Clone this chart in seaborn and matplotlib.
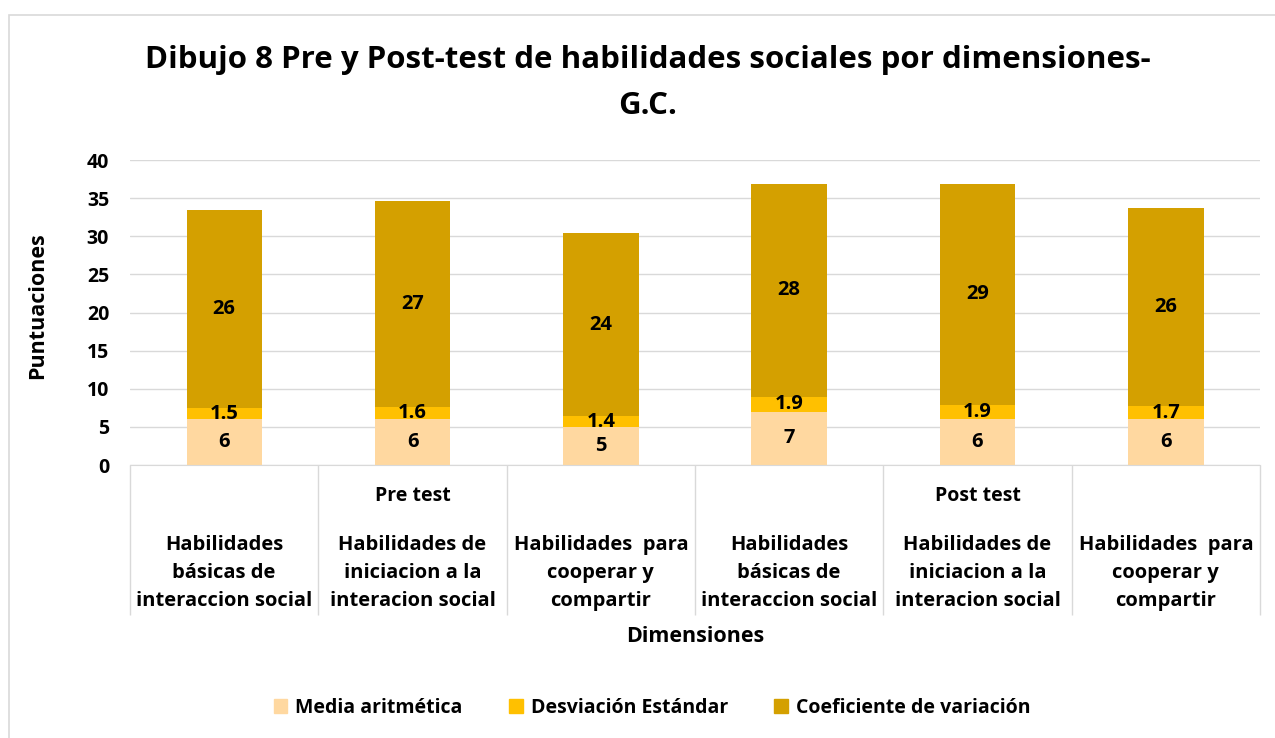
# -*- coding: utf-8 -*-
import numpy as np
import pandas as pd
import matplotlib.pyplot as plt
import matplotlib.patches as mpatches
import seaborn as sns

sns.set_style("white")
plt.rcParams['font.family'] = ['Open Sans', 'DejaVu Sans']
plt.rcParams['font.weight'] = 'bold'
plt.rcParams['text.color'] = 'black'
plt.rcParams['ytick.color'] = 'black'

# datos
grupos = ["Pre test", "Post test"]
dimensiones = ["Habilidades\nbásicas de\ninteraccion social",
               "Habilidades de\niniciacion a la\ninteracion social",
               "Habilidades  para\ncooperar y\ncompartir"]
media = [6, 6, 5, 7, 6, 6]
desviacion = [1.5, 1.6, 1.4, 1.9, 1.9, 1.7]
coef_var = [26, 27, 24, 28, 29, 26]
series = ["Media aritmética", "Desviación Estándar", "Coeficiente de variación"]
colores = ["#FFD8A0", "#FFC000", "#D4A000"]

etiquetas = [g + " | " + d for g in grupos for d in dimensiones]
df = pd.DataFrame({"cat": etiquetas, "media": media,
                   "sd": desviacion, "cv": coef_var})
df["tope_sd"] = df["media"] + df["sd"]
df["total"] = df["tope_sd"] + df["cv"]

fig = plt.figure(figsize=(12.75, 7.38), dpi=100)
ax = fig.add_axes([130/1275, 1 - 465/738, 1130/1275, 305/738])

# barras apiladas (de la mas alta a la mas baja)
for col, c in zip(["total", "tope_sd", "media"], colores[::-1]):
    sns.barplot(data=df, x="cat", y=col, color=c, width=0.40,
                saturation=1, ax=ax, order=etiquetas, linewidth=0)

# etiquetas de valores
for i, r in df.iterrows():
    for yv, v in [(r["media"] / 2, r["media"]),
                  (r["media"] + r["sd"] / 2, r["sd"]),
                  (r["tope_sd"] + r["cv"] / 2, r["cv"])]:
        ax.text(i, yv, f"{v:g}", ha="center", va="center",
                fontsize=14.5, fontweight="bold")

ax.set_ylim(0, 40)
ax.set_xlim(-0.5, 5.5)
ax.set_yticks(np.arange(0, 41, 5))
ax.yaxis.grid(True, color="#D9D9D9", linewidth=1)
ax.set_axisbelow(True)
for s in ["top", "right", "left"]:
    ax.spines[s].set_visible(False)
ax.spines["bottom"].set_color("#D9D9D9")
ax.tick_params(axis="y", length=0, labelsize=14, pad=15)

# eje x multinivel
ax.set_xticks(np.arange(-0.5, 6, 1), minor=True)
ax.set_xticks(range(6))
ax.set_xticklabels([])
ax.set_xlabel("")
ax.set_ylabel("")
ax.tick_params(axis="x", which="major", length=0)
ax.tick_params(axis="x", which="minor", bottom=True, length=108,
               color="#D9D9D9", width=1)
for k, g in enumerate(grupos):
    ax.text(1 + 3 * k, (465 - 496) / 7.625, g, ha="center", va="center",
            fontsize=14, fontweight="bold")
for i, d in enumerate([d for g in grupos for d in dimensiones]):
    ax.text(i, (465 - 573) / 7.625, d, ha="center", va="center",
            fontsize=14.5, fontweight="bold", linespacing=1.52)

fig.text(695/1275, 1 - 637/738, "Dimensiones", ha="center", va="center",
         fontsize=15.5, fontweight="bold")
fig.text(38/1275, 1 - 306/738, "Puntuaciones", ha="center", va="center",
         rotation=90, fontsize=15.5, fontweight="bold")

fig.text(648/1275, 1 - 60/738,
         "Dibujo 8 Pre y Post-test de habilidades sociales por dimensiones-",
         ha="center", va="center", fontsize=22.5, fontweight="bold")
fig.text(648/1275, 1 - 106/738, "G.C.",
         ha="center", va="center", fontsize=22.5, fontweight="bold")

handles = [mpatches.Patch(color=c, label=l) for c, l in zip(colores, series)]
fig.legend(handles=handles, loc="center", bbox_to_anchor=(652/1275, 1 - 708/738),
           ncol=3, frameon=False, fontsize=14, handlelength=0.7,
           handleheight=0.7, handletextpad=0.4, columnspacing=2.4)

fig.patches.append(mpatches.Rectangle((9/1275, -0.1), 1.2, 0.1 + 1 - 15/738,
                                      transform=fig.transFigure, fill=False,
                                      edgecolor="#D9D9D9", linewidth=1.2))

fig.savefig("out.png", dpi=100)
